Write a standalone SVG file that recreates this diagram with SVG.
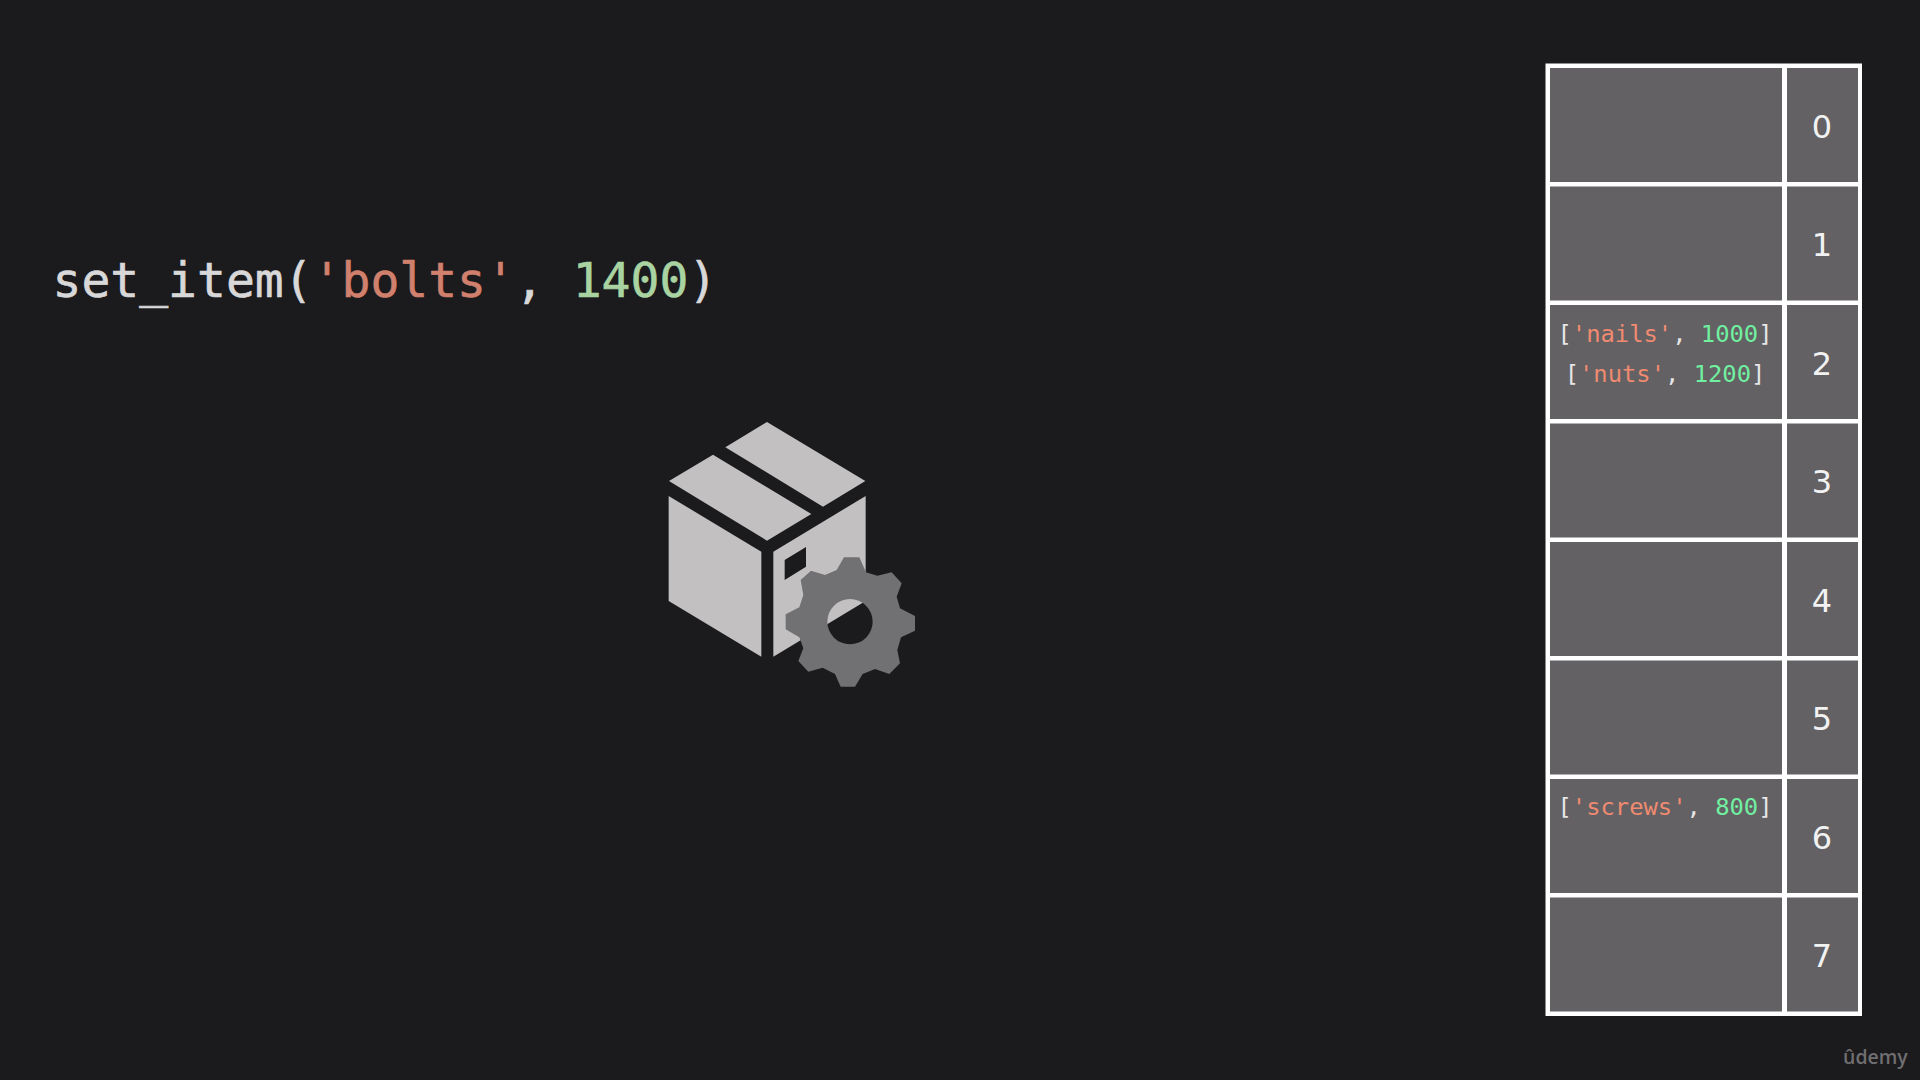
<svg xmlns="http://www.w3.org/2000/svg" width="1920" height="1080" viewBox="0 0 1920 1080">
<style>
.mono{font-family:"DejaVu Sans Mono","Liberation Mono",monospace}
.call{font-size:48px;fill:#d9d8d9;stroke:#d9d8d9;stroke-width:.6px}
.cs{fill:#d0806c;stroke:#d0806c}.cn{fill:#a9d4a2;stroke:#a9d4a2}
.item{font-size:23.8px;fill:#e6e6e6;text-anchor:middle}
.s{fill:#f08a70}.n{fill:#70f0a0}
.cell{fill:#636164}
.idx{font-family:"DejaVu Sans",sans-serif;font-size:32px;fill:#f2f2f2;text-anchor:middle}
.box{fill:#c2c0c1}
.gear{fill:#717072;fill-rule:evenodd}
.logo{font-family:"Open Sans","Lato",sans-serif;font-size:19.5px;font-weight:600;fill:#6f6e70}
</style>
<rect width="1920" height="1080" fill="#1b1a1d"/>
<g id="call"><text class="mono call" x="52.5" y="297">set_item(<tspan class="cs">'bolts'</tspan>, <tspan class="cn">1400</tspan>)</text></g>
<g id="icon" transform="translate(640 400) scale(.33333)">
<path class="box" d="M381 66L676 243L549 320L256 142ZM219 164L514 342L381 422L87 243ZM86 288L364 455V770L86 603ZM400 455L677 288V603L400 770ZM434 480V540L498 500V441Z" fill-rule="evenodd"/>
<path class="gear" d="M612 472H658L678 517L712 527L755 517L785 550L770 590L780 625L825 648V692L783 712L772 750L780 790L748 822L705 807L668 822L645 860H602L585 822L548 803L505 815L475 783L490 745L478 712L437 688V643L478 622L490 585L482 540L513 512L555 525L590 510ZM698 665A68 68 0 1 0 562 665A68 68 0 1 0 698 665Z"/>
</g>
<g id="table">
<rect x="1545.5" y="63.5" width="316.5" height="952.5" fill="#fff"/>
<g id="row0"><rect class="cell" x="1550" y="68" width="232" height="114"/><rect class="cell" x="1787" y="68" width="71" height="114"/><text class="idx" x="1822" y="138">0</text></g>
<g id="row1"><rect class="cell" x="1550" y="186.5" width="232" height="114"/><rect class="cell" x="1787" y="186.5" width="71" height="114"/><text class="idx" x="1822" y="256">1</text></g>
<g id="row2"><rect class="cell" x="1550" y="305" width="232" height="114"/><rect class="cell" x="1787" y="305" width="71" height="114"/><text class="idx" x="1822" y="374.5">2</text>
<text class="mono item" x="1665" y="342">[<tspan class="s">'nails'</tspan>, <tspan class="n">1000</tspan>]</text>
<text class="mono item" x="1665" y="382">[<tspan class="s">'nuts'</tspan>, <tspan class="n">1200</tspan>]</text></g>
<g id="row3"><rect class="cell" x="1550" y="423.5" width="232" height="114"/><rect class="cell" x="1787" y="423.5" width="71" height="114"/><text class="idx" x="1822" y="493">3</text></g>
<g id="row4"><rect class="cell" x="1550" y="542" width="232" height="114"/><rect class="cell" x="1787" y="542" width="71" height="114"/><text class="idx" x="1822" y="611.5">4</text></g>
<g id="row5"><rect class="cell" x="1550" y="660.5" width="232" height="114"/><rect class="cell" x="1787" y="660.5" width="71" height="114"/><text class="idx" x="1822" y="730">5</text></g>
<g id="row6"><rect class="cell" x="1550" y="779" width="232" height="114"/><rect class="cell" x="1787" y="779" width="71" height="114"/><text class="idx" x="1822" y="848.5">6</text>
<text class="mono item" x="1665" y="815">[<tspan class="s">'screws'</tspan>, <tspan class="n">800</tspan>]</text></g>
<g id="row7"><rect class="cell" x="1550" y="897.5" width="232" height="114"/><rect class="cell" x="1787" y="897.5" width="71" height="114"/><text class="idx" x="1822" y="967">7</text></g>
</g>
<text class="logo" x="1843" y="1064">ûdemy</text>
</svg>
